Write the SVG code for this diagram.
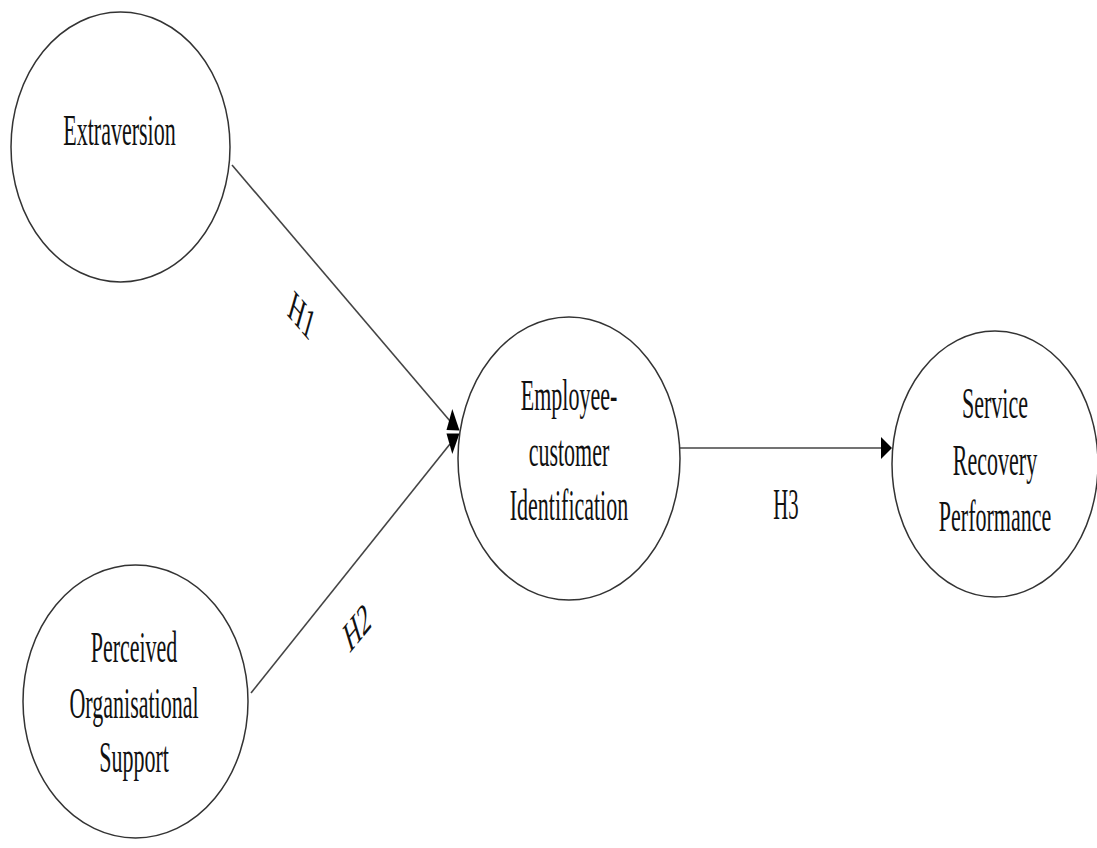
<svg xmlns="http://www.w3.org/2000/svg" width="1097" height="848" viewBox="0 0 1097 848">
<style>
.node{fill:#fff;stroke:#333;stroke-width:1.5}
.lbl{font-family:"Liberation Serif","Times New Roman",serif;font-size:44px;fill:#111;text-anchor:middle}
.edge{stroke:#444;stroke-width:1.6;fill:none}
.head{fill:#000;stroke:none}
</style>
<rect width="1097" height="848" fill="#fff"/>
<g id="connectors">
<line class="edge" x1="232" y1="165" x2="450" y2="421"/>
<polygon class="head" points="452.3,409 446.5,430 459.5,430.5"/>
<line class="edge" x1="251" y1="693" x2="450" y2="444"/>
<polygon class="head" points="446.5,433.5 459.5,433.5 452.3,454"/>
<line class="edge" x1="680" y1="448" x2="883" y2="448"/>
<polygon class="head" points="881,437 892,448 881,459"/>
<g transform="translate(302,315) scale(0.5,1) rotate(30)"><text class="lbl" x="0" y="15">H1</text></g>
<g transform="translate(357,627) scale(0.5,1) rotate(-31.6)"><text class="lbl" x="0" y="15">H2</text></g>
<g transform="translate(786,0) scale(0.47,1)"><text class="lbl" x="0" y="519">H3</text></g>
</g>
<g id="extraversion">
<ellipse class="node" cx="120.5" cy="147" rx="109.5" ry="135"/>
<g transform="translate(119.5,0) scale(0.5,1)"><text class="lbl" x="0" y="145">Extraversion</text></g>
</g>
<g id="pos">
<ellipse class="node" cx="135.5" cy="701.5" rx="112.5" ry="136.5"/>
<g transform="translate(134,0) scale(0.5,1)">
<text class="lbl" x="0" y="662">Perceived</text>
<text class="lbl" x="0" y="718">Organisational</text>
<text class="lbl" x="0" y="772">Support</text>
</g>
</g>
<g id="eci">
<ellipse class="node" cx="569" cy="458.5" rx="111" ry="141.5"/>
<g transform="translate(569,0) scale(0.5,1)">
<text class="lbl" x="0" y="410">Employee-</text>
<text class="lbl" x="0" y="466">customer</text>
<text class="lbl" x="0" y="520">Identification</text>
</g>
</g>
<g id="srp">
<ellipse class="node" cx="995" cy="464" rx="103" ry="133"/>
<g transform="translate(995,0) scale(0.5,1)">
<text class="lbl" x="0" y="418">Service</text>
<text class="lbl" x="0" y="475">Recovery</text>
<text class="lbl" x="0" y="531">Performance</text>
</g>
</g>
</svg>
